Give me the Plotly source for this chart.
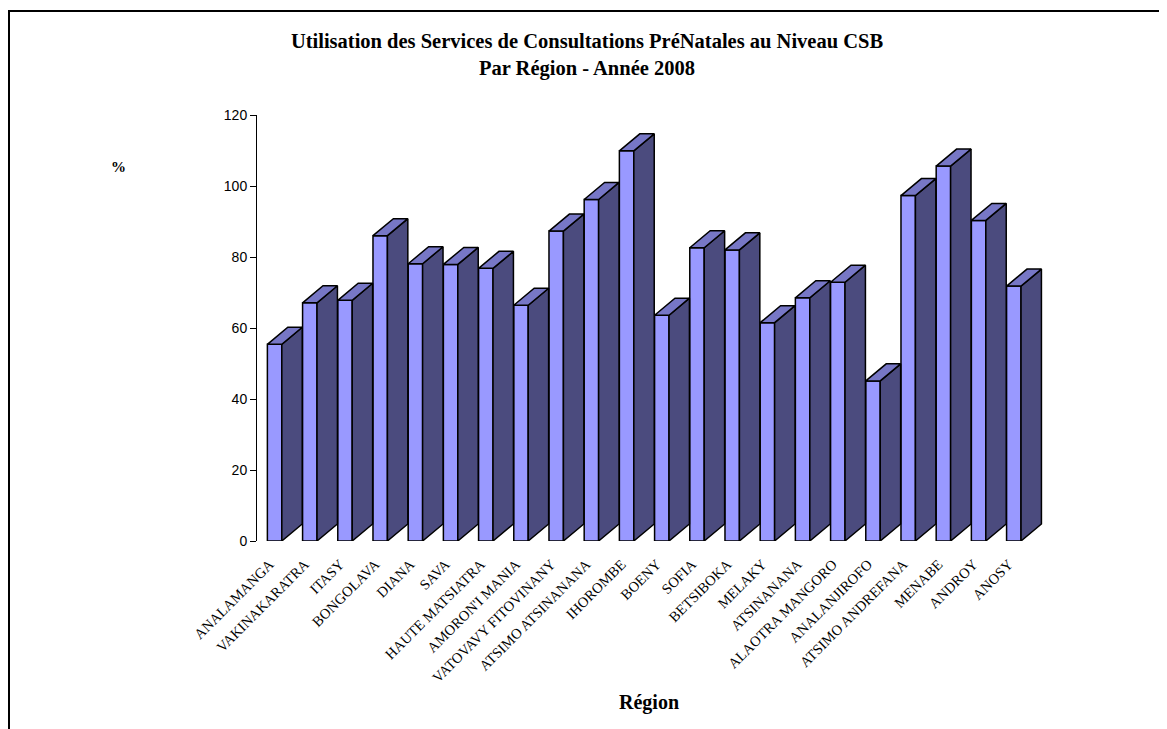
import plotly.graph_objects as go

regions = ["ANALAMANGA", "VAKINAKARATRA", "ITASY", "BONGOLAVA", "DIANA", "SAVA",
           "HAUTE MATSIATRA", "AMORON'I MANIA", "VATOVAVY FITOVINANY",
           "ATSIMO ATSINANANA", "IHOROMBE", "BOENY", "SOFIA", "BETSIBOKA", "MELAKY",
           "ATSINANANA", "ALAOTRA MANGORO", "ANALANJIROFO", "ATSIMO ANDREFANA",
           "MENABE", "ANDROY", "ANOSY"]
values = [55.4, 67.1, 67.8, 86.0, 78.1, 77.9, 76.8, 66.4, 87.3, 96.2, 109.9,
          63.6, 82.6, 82.0, 61.5, 68.5, 72.9, 45.1, 97.3, 105.6, 90.3, 71.8]
y_ticks = [0, 20, 40, 60, 80, 100, 120]

# styling of the pseudo-3D effect
W = 0.41      # front face width (category units)
DX = 0.58     # depth offset in x (category units)
DY = 4.8      # depth offset in y (value units)
FRONT = "#9999FF"
SIDE = "#4B4B7E"
TOP = "#7777C6"

idx = list(range(len(regions)))

side_x, side_y, top_x, top_y = [], [], [], []
for i, v in zip(idx, values):
    r = i + W / 2
    l = i - W / 2
    side_x += [r, r + DX, r + DX, r, r, None]
    side_y += [0, DY, v + DY, v, 0, None]
    top_x += [l, r, r + DX, l + DX, l, None]
    top_y += [v, v, v + DY, v + DY, v, None]

fig = go.Figure()
fig.add_trace(go.Bar(x=idx, y=values, width=W,
                     marker=dict(color=FRONT, line=dict(color="black", width=1.5)),
                     hoverinfo="skip"))
fig.add_trace(go.Scatter(x=side_x, y=side_y, mode="lines", fill="toself",
                         fillcolor=SIDE, line=dict(color="black", width=1.5),
                         hoverinfo="skip"))
fig.add_trace(go.Scatter(x=top_x, y=top_y, mode="lines", fill="toself",
                         fillcolor=TOP, line=dict(color="black", width=1.5),
                         hoverinfo="skip"))

OFF = 8  # page body margin
FW, FH = 1167 - OFF, 729 - OFF
L, R, T, B = 257 - OFF, 1049 - OFF, 115 - OFF, 541 - OFF
PW, PH = R - L, B - T

def px_x(p):
    return (p - OFF - L) / PW

def px_y(p):
    return (B - (p - OFF)) / PH

fig.update_layout(
    width=FW, height=FH,
    margin=dict(l=L, r=FW - R, t=T, b=FH - B, pad=0),
    paper_bgcolor="white", plot_bgcolor="white",
    showlegend=False,
    title=dict(text="<b>Utilisation des Services de Consultations PréNatales au Niveau CSB<br>Par Région - Année 2008</b>",
               x=(587 - OFF) / FW, xanchor="center", y=1 - (48 - OFF) / FH, yanchor="middle",
               font=dict(family="Liberation Serif", size=20.5, color="black")),
    xaxis=dict(range=[-0.5, 22.0], tickmode="array", tickvals=idx, ticktext=regions,
               tickangle=-45, showline=False, showgrid=False, zeroline=False,
               ticks="", ticklabelstandoff=11, ticklabelshift=-5,
               tickfont=dict(family="Liberation Serif", size=14.5, color="black")),
    yaxis=dict(range=[0, 120], tickmode="array", tickvals=y_ticks,
               showline=True, linecolor="black", linewidth=1,
               ticks="outside", ticklen=6, tickcolor="black", tickwidth=1,
               showgrid=False, zeroline=False,
               tickfont=dict(family="Liberation Sans", size=14, color="black")),
    annotations=[
        dict(text="<b>%</b>", x=px_x(118), y=px_y(167), xref="paper", yref="paper",
             xanchor="center", yanchor="middle",
             showarrow=False, font=dict(family="Liberation Serif", size=15, color="black")),
        dict(text="<b>Région</b>", x=px_x(649), y=px_y(702), xref="paper", yref="paper",
             xanchor="center", yanchor="middle",
             showarrow=False, font=dict(family="Liberation Serif", size=20, color="black")),
    ],
    shapes=[
        dict(type="line", xref="paper", yref="paper", x0=px_x(8), x1=px_x(1175),
             y0=px_y(11), y1=px_y(11), line=dict(color="black", width=2)),
        dict(type="line", xref="paper", yref="paper", x0=px_x(9), x1=px_x(9),
             y0=px_y(11), y1=px_y(740), line=dict(color="black", width=2)),
    ],
)

fig.write_html("out.html")
